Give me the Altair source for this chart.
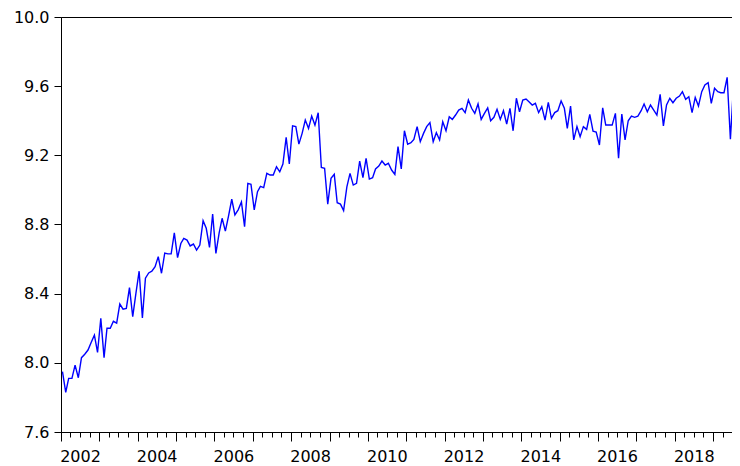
import altair as alt
import pandas as pd

start_month = "2002-01"
values = [
    7.949, 7.829, 7.910, 7.910, 7.987, 7.914, 8.030, 8.050, 8.074, 8.118, 8.160, 8.060,
    8.257, 8.030, 8.200, 8.200, 8.240, 8.230, 8.340, 8.310, 8.315, 8.435, 8.267, 8.400,
    8.530, 8.260, 8.490, 8.520, 8.530, 8.556, 8.614, 8.518, 8.635, 8.630, 8.630, 8.752,
    8.608, 8.690, 8.720, 8.710, 8.676, 8.687, 8.652, 8.681, 8.822, 8.778, 8.668, 8.861,
    8.633, 8.752, 8.836, 8.762, 8.849, 8.946, 8.855, 8.885, 8.930, 8.787, 9.038, 9.032,
    8.884, 8.990, 9.020, 9.013, 9.096, 9.086, 9.086, 9.134, 9.105, 9.150, 9.304, 9.150,
    9.370, 9.366, 9.265, 9.327, 9.404, 9.356, 9.427, 9.375, 9.446, 9.130, 9.125, 8.918,
    9.067, 9.090, 8.926, 8.918, 8.880, 9.018, 9.096, 9.028, 9.038, 9.167, 9.071, 9.183,
    9.063, 9.071, 9.121, 9.138, 9.167, 9.144, 9.154, 9.115, 9.090, 9.250, 9.122, 9.342,
    9.264, 9.273, 9.292, 9.366, 9.279, 9.327, 9.366, 9.389, 9.279, 9.331, 9.289, 9.394,
    9.342, 9.423, 9.408, 9.433, 9.462, 9.472, 9.447, 9.520, 9.472, 9.443, 9.497, 9.408,
    9.443, 9.475, 9.400, 9.420, 9.466, 9.408, 9.458, 9.381, 9.472, 9.342, 9.530, 9.452,
    9.520, 9.526, 9.510, 9.491, 9.501, 9.447, 9.481, 9.404, 9.506, 9.414, 9.447, 9.458,
    9.514, 9.472, 9.356, 9.485, 9.289, 9.366, 9.308, 9.366, 9.350, 9.437, 9.340, 9.335,
    9.260, 9.475, 9.375, 9.375, 9.375, 9.443, 9.183, 9.439, 9.289, 9.400, 9.427, 9.420,
    9.427, 9.458, 9.497, 9.452, 9.491, 9.462, 9.433, 9.553, 9.370, 9.491, 9.530, 9.504,
    9.530, 9.543, 9.568, 9.524, 9.539, 9.447, 9.535, 9.485, 9.568, 9.607, 9.620, 9.501,
    9.588, 9.568, 9.562, 9.562, 9.651, 9.293, 9.607, 9.501, 9.560,
]
y_ticks = [7.6, 8.0, 8.4, 8.8, 9.2, 9.6, 10.0]
tick_years = list(range(2002, 2020))
quarter_months = [4, 7, 10]

dates = pd.date_range(start_month + "-01", periods=len(values), freq="MS") + pd.Timedelta(days=14)
df = pd.DataFrame({"date": dates.strftime("%Y-%m-%d"), "value": values})

x_scale = alt.Scale(domain=[alt.DateTime(year=2002, month=1, date=1),
                            alt.DateTime(year=2019, month=11, date=1)])
y_scale = alt.Scale(domain=[7.6, 10.0], nice=False, zero=False)

FONT = "DejaVu Sans"

major_axis = alt.Axis(
    values=[alt.DateTime(year=y, month=1, date=1) for y in tick_years],
    labelExpr="year(datum.value) % 2 == 0 ? timeFormat(datum.value, '%Y') : ''",
    tickSize=9, labelOffset=19, labelPadding=7, grid=False, title=None,
    domainColor="black", tickColor="black", labelColor="black",
    labelFont=FONT, labelFontSize=16, orient="bottom", labelFlush=False,
    labelOverlap=False,
)
minor_axis = alt.Axis(
    values=[alt.DateTime(year=y, month=m, date=1) for y in tick_years for m in quarter_months],
    labels=False, tickSize=5, domain=False, grid=False, title=None,
    tickColor="black", orient="bottom",
)
y_axis = alt.Axis(
    values=y_ticks, format=".1f", tickSize=7, labelPadding=5, grid=False, title=None,
    domainColor="black", tickColor="black", labelColor="black",
    labelFont=FONT, labelFontSize=16,
)

line = alt.Chart(df).mark_line(color="#0000FF", strokeWidth=1.4).encode(
    x=alt.X("date:T", scale=x_scale, axis=major_axis),
    y=alt.Y("value:Q", scale=y_scale, axis=y_axis),
)
minor = alt.Chart(df).mark_line(opacity=0).encode(
    x=alt.X("date:T", scale=x_scale, axis=minor_axis),
    y=alt.Y("value:Q", scale=y_scale, axis=y_axis),
)

chart = alt.layer(line, minor).resolve_axis(x="independent").properties(
    width=684, height=415,
    background="white",
    autosize=alt.AutoSizeParams(type="none"),
    padding={"left": 53, "top": 9, "right": -13, "bottom": 42},
).configure_view(stroke="black", strokeWidth=1)

chart.save("out.html", embed_options={"renderer": "svg", "actions": False})
